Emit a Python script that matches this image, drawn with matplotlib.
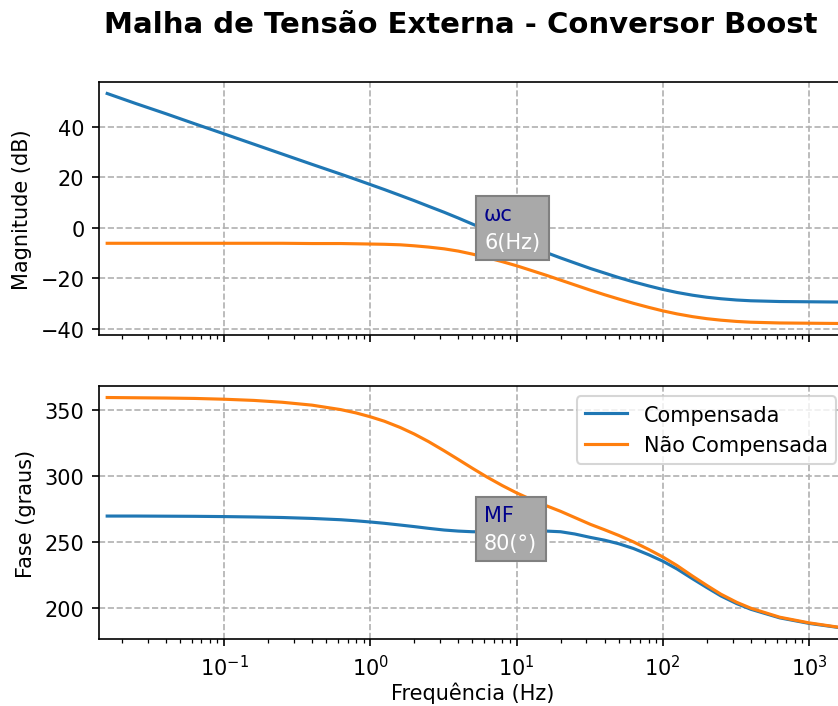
import matplotlib
matplotlib.use('Agg')
import matplotlib.pyplot as plt

# frequência em Hz
freq = [0.0159, 0.025, 0.04, 0.063, 0.1, 0.16, 0.25, 0.4, 0.63, 0.8,
        1.0, 1.25, 1.6, 2.0, 2.5, 3.2, 4.0, 5.0, 6.3, 8.0,
        10, 12.5, 16, 20, 25, 32, 40, 50, 63, 80,
        100, 125, 160, 200, 250, 320, 400, 630, 1000, 1591]

# magnitude (dB)
mag_comp = [53.3, 49.3, 45.3, 41.3, 37.3, 33.2, 29.3, 25.2, 21.3, 19.2,
            17.2, 15.2, 12.9, 10.8, 8.6, 6.2, 3.9, 1.5, -0.9, -3.3,
            -5.4, -7.5, -9.8, -11.9, -13.9, -16.1, -17.9, -19.7, -21.4, -23.0,
            -24.4, -25.6, -26.7, -27.5, -28.1, -28.6, -28.9, -29.2, -29.3, -29.4]
mag_ncomp = [-6.1, -6.1, -6.1, -6.1, -6.1, -6.1, -6.1, -6.2, -6.2, -6.3,
             -6.4, -6.5, -6.7, -7.1, -7.6, -8.3, -9.2, -10.4, -11.8, -13.4,
             -15.0, -16.8, -18.8, -20.7, -22.6, -24.7, -26.5, -28.2, -29.9, -31.5,
             -32.9, -34.1, -35.2, -36.0, -36.6, -37.1, -37.4, -37.7, -37.8, -37.9]

# fase (graus)
fase_comp = [269.9, 269.9, 269.8, 269.7, 269.5, 269.2, 268.8, 268.1, 267.1, 266.3,
             265.4, 264.4, 263.1, 261.9, 260.6, 259.3, 258.5, 258.0, 258.0, 258.2,
             258.5, 258.6, 258.5, 258.0, 256.3, 253.7, 251.6, 248.9, 245.3, 240.6,
             235.7, 229.8, 222.3, 215.7, 209.3, 203.5, 199.2, 192.7, 188.5, 185.4]
fase_ncomp = [359.8, 359.6, 359.4, 359.1, 358.5, 357.6, 356.2, 354.0, 350.6, 348.1,
              345.2, 341.8, 337.1, 332.1, 326.4, 319.4, 312.8, 306.1, 299.4, 293.0,
              287.5, 282.6, 277.7, 273.5, 268.8, 263.6, 259.5, 255.2, 250.3, 244.6,
              238.9, 232.4, 224.3, 217.3, 210.6, 204.5, 200.0, 193.2, 188.9, 185.6]

# frequência de cruzamento e margem de fase
wc = 6
mf = 80
fase_wc = 260

fig = plt.figure(figsize=(838 / 150, 707 / 150), dpi=150)
ax1 = fig.add_axes([0.1181, 0.5248, 0.892, 0.3578])
ax2 = fig.add_axes([0.1181, 0.0948, 0.892, 0.3578], sharex=ax1)

ax1.semilogx(freq, mag_comp, label='Compensada')
ax1.semilogx(freq, mag_ncomp, label='Não Compensada')
ax1.set_ylabel('Magnitude (dB)')
ax1.grid(True, linestyle='--')
ax1.tick_params(labelbottom=False)

ax2.semilogx(freq, fase_comp, label='Compensada')
ax2.semilogx(freq, fase_ncomp, label='Não Compensada')
ax2.set_ylabel('Fase (graus)')
ax2.set_xlabel('Frequência (Hz)', labelpad=1.5)
ax2.grid(True, linestyle='--')
ax2.legend(loc='upper right')
ax2.set_xlim(0.01397, 1802)

# caixas de anotação: valor em branco dentro da caixa, nome em azul por cima
caixa = dict(facecolor='darkgray', edgecolor='gray')
for ax, y, nome, valor in [(ax1, 0, 'ωc', f'{wc}(Hz)'),
                           (ax2, fase_wc, 'MF', f'{mf}(°)')]:
    ax.text(wc, y, '\n' + valor, color='white', va='center', ha='left',
            linespacing=1.5, bbox=caixa)
    ax.text(wc, y, nome + '\n', color='darkblue', va='center', ha='left', linespacing=1.5)

fig.suptitle('Malha de Tensão Externa - Conversor Boost', fontsize=14,
             fontweight='bold', x=0.55, y=0.985)

fig.savefig('out.png', dpi=150)
